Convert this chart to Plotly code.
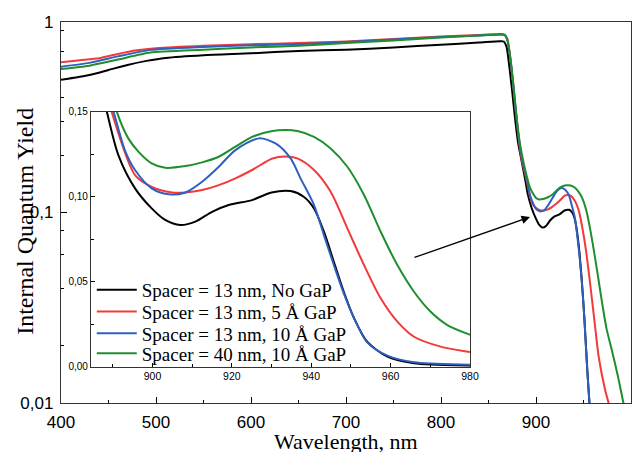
import math
import plotly.graph_objects as go

# ---------------- data ----------------
black_wl = [400, 430, 450, 470, 490, 510, 550, 600, 650, 700, 750, 800, 840, 862, 866, 869, 872, 875, 878, 881,
            884.5, 888.5, 891.4, 895.6, 899.8, 903.2, 907, 910.8, 915, 919.2, 925.1, 930, 934.8, 938.1, 940.7,
            943.2, 945.7, 948.2, 950.8, 954.1, 959.2, 965.9, 980.2, 1000]
black_iqy = [.497, .527, .56, .595, .625, .648, .67, .685, .705, .715, .735, .76, .78, .792, .79, .74, .58, .43, .31, .235,
             .19, .15, .1245, .1049, .0931, .0863, .0833, .0853, .0911, .0951, .098, .1025, .1033, .1, .0931,
             .0794, .0617, .0441, .0285, .0147, .0059, .002, .0006, .0004]

red_wl = [400, 420, 440, 460, 480, 500, 550, 600, 650, 700, 750, 800, 840, 862, 867, 870, 873, 876, 879, 882,
          884.5, 889.7, 895.6, 899.8, 904.9, 908.3, 912.5, 916.7, 920.9, 925.1, 930.2, 933.5, 936.5, 940.7, 944.9,
          949.1, 953.3, 957.5, 961.7, 965.9, 972.6, 980.2, 990, 1000]
red_iqy = [.615, .63, .645, .68, .71, .728, .75, .765, .775, .79, .815, .84, .855, .865, .86, .81, .64, .47, .33, .24,
           .195, .15, .1127, .1058, .1025, .1025, .1039, .1068, .1108, .1157, .1225, .1237, .1225, .1157, .1029,
           .0814, .0598, .0402, .0265, .0176, .0118, .0085, .005, .003]

blue_wl = [400, 430, 460, 494, 550, 600, 650, 700, 750, 800, 840, 862, 867, 870, 873, 876, 879, 882,
           884.5, 890.2, 893.1, 895.6, 899.8, 904, 908.3, 912.5, 916.7, 920.9, 926.8, 931, 934.8, 937.3, 940.7,
           943.2, 945.7, 948.2, 950.8, 954.1, 959.2, 965.9, 980.2, 1000]
blue_iqy = [.583, .61, .66, .714, .74, .755, .765, .785, .81, .835, .85, .86, .855, .80, .64, .47, .33, .245,
            .2, .15, .127, .1157, .1049, .1014, .1025, .1088, .1176, .1274, .1343, .1313, .1225, .1108, .0951,
            .0774, .0598, .0431, .0285, .0143, .0065, .0026, .0012, .0008]

green_wl = [400, 430, 460, 494, 550, 600, 650, 700, 750, 800, 840, 862, 867, 870, 873, 876, 879, 882,
            884.5, 891, 893.9, 896.5, 899.8, 903.2, 908.3, 912.5, 916.7, 920.9, 925.1, 930.2, 933.5, 936.5, 940.7,
            944.9, 949.1, 953.3, 957.5, 961.7, 965.9, 970.1, 974.3, 980.2, 986, 992, 1000]
green_iqy = [.567, .59, .635, .691, .715, .735, .75, .775, .80, .83, .85, .86, .855, .80, .65, .48, .34, .25,
             .21, .15, .1343, .1264, .1196, .117, .118, .1202, .1235, .1294, .1352, .1386, .1392, .1386, .1352,
             .1284, .1176, .101, .0794, .0598, .0441, .0323, .0245, .0186, .014, .010, .0065]

series_names = ["Spacer = 13 nm, No GaP", "Spacer = 13 nm, 5 Å GaP",
                "Spacer = 13 nm, 10 Å GaP", "Spacer = 40 nm, 10 Å GaP"]

main_x_ticks = [400, 500, 600, 700, 800, 900, 1000]
main_y_ticks = [0.01, 0.1, 1]
main_y_ticktext = ["0,01", "0,1", "1"]
inset_x_ticks = [900, 920, 940, 960, 980]
inset_y_ticks = [0.0, 0.05, 0.10, 0.15]
inset_y_ticktext = ["0,00", "0,05", "0,10", "0,15"]

# arrow: tail and head (wavelength, IQY)
arrow_tail = (770.5, 0.0577)
arrow_head = (893.7, 0.0947)

# ---------------- figure ----------------
colors = ["#000000", "#f23a3a", "#2f5fc0", "#1f8e2e"]
data = [(black_wl, black_iqy), (red_wl, red_iqy), (blue_wl, blue_iqy), (green_wl, green_iqy)]
legend_ids = ["legend", "legend2", "legend3", "legend4"]
legend_y = [0.3465, 0.2895, 0.2328, 0.1803]

fig = go.Figure()
for (wl, v), c in zip(data, colors):
    fig.add_trace(go.Scatter(x=wl, y=v, mode="lines", line=dict(color=c, width=2, shape="spline", smoothing=0.6),
                             showlegend=False, xaxis="x", yaxis="y", hoverinfo="skip"))
for (wl, v), c, nm, lg in zip(data, colors, series_names, legend_ids):
    fig.add_trace(go.Scatter(x=wl, y=v, mode="lines", name=nm, legend=lg,
                             line=dict(color=c, width=2, shape="spline", smoothing=0.8),
                             xaxis="x2", yaxis="y2", hoverinfo="skip"))

ARIAL = "Arial, Liberation Sans, sans-serif"
TIMES = "Times New Roman, Liberation Serif, serif"
LINEC = "#333333"

legends = {}
for lg, ly in zip(legend_ids, legend_y):
    legends[lg] = dict(x=0.054, y=ly, xanchor="left", yanchor="top", bgcolor="rgba(0,0,0,0)",
                       font=dict(family=TIMES, size=19, color="#000"), itemwidth=40)

fig.update_layout(
    width=634, height=444,
    margin=dict(l=53, r=11, t=14, b=49, autoexpand=False),
    paper_bgcolor="white", plot_bgcolor="white",
    showlegend=True,
    xaxis=dict(domain=[0, 1], anchor="y", range=[400, 1000], tickmode="array", tickvals=main_x_ticks,
               ticks="inside", ticklen=6, tickwidth=1.2, tickcolor="#000", automargin=False, ticklabelstandoff=3,
               minor=dict(tickmode="array", tickvals=[450, 550, 650, 750, 850, 950], ticks="inside",
                          ticklen=3, tickwidth=1.2, tickcolor="#000", showgrid=False),
               showline=True, linecolor=LINEC, linewidth=1.4, mirror=True, showgrid=False, zeroline=False,
               tickfont=dict(family=ARIAL, size=17, color="#000")),
    yaxis=dict(domain=[0, 1], anchor="x", type="log", range=[-2, 0], tickmode="array",
               tickvals=main_y_ticks, ticktext=main_y_ticktext, automargin=False, ticklabelstandoff=3,
               ticks="inside", ticklen=6, tickwidth=1.2, tickcolor="#000",
               minor=dict(tickmode="array", tickvals=[0.02, 0.04, 0.06, 0.08, 0.2, 0.3, 0.4, 0.7, 0.9],
                          ticks="inside", ticklen=3, tickwidth=1.2, tickcolor="#000", showgrid=False),
               showline=True, linecolor=LINEC, linewidth=1.4, mirror=True, showgrid=False, zeroline=False,
               tickfont=dict(family=ARIAL, size=17, color="#000")),
    xaxis2=dict(domain=[0.0526, 0.7175], anchor="y2", range=[884.5, 980], tickmode="array",
                tickvals=inset_x_ticks, ticks="inside", ticklen=4, tickwidth=1, tickcolor="#000", automargin=False,
                minor=dict(tickmode="array", tickvals=[890, 910, 930, 950, 970], ticks="inside",
                           ticklen=2.5, tickwidth=1, tickcolor="#000", showgrid=False),
                showline=True, linecolor=LINEC, linewidth=1.2, mirror=True, showgrid=False, zeroline=False,
                tickfont=dict(family=ARIAL, size=10.5, color="#000")),
    yaxis2=dict(domain=[0.0953, 0.7646], anchor="x2", range=[0, 0.15], tickmode="array",
                tickvals=inset_y_ticks, ticktext=inset_y_ticktext, automargin=False,
                ticks="inside", ticklen=4, tickwidth=1, tickcolor="#000",
                minor=dict(tickmode="array", tickvals=[0.025, 0.075, 0.125], ticks="inside",
                           ticklen=2.5, tickwidth=1, tickcolor="#000", showgrid=False),
                showline=True, linecolor=LINEC, linewidth=1.2, mirror=True, showgrid=False, zeroline=False,
                tickfont=dict(family=ARIAL, size=10, color="#000")),
    annotations=[
        dict(text="Wavelength, nm", x=0.5, y=-0.1016, xref="paper", yref="paper", showarrow=False,
             xanchor="center", yanchor="middle", font=dict(family=TIMES, size=22, color="#000")),
        dict(text="Internal Quantum Yield", x=-0.0632, y=0.478, xref="paper", yref="paper", showarrow=False,
             textangle=-90, xanchor="center", yanchor="middle", font=dict(family=TIMES, size=24, color="#000")),
        dict(text="", x=arrow_head[0], y=math.log10(arrow_head[1]), xref="x", yref="y",
             ax=arrow_tail[0], ay=math.log10(arrow_tail[1]), axref="x", ayref="y",
             showarrow=True, arrowhead=2, arrowsize=1.3, arrowwidth=1.3, arrowcolor="#000"),
    ],
    **legends,
)

fig.write_html("out.html")
